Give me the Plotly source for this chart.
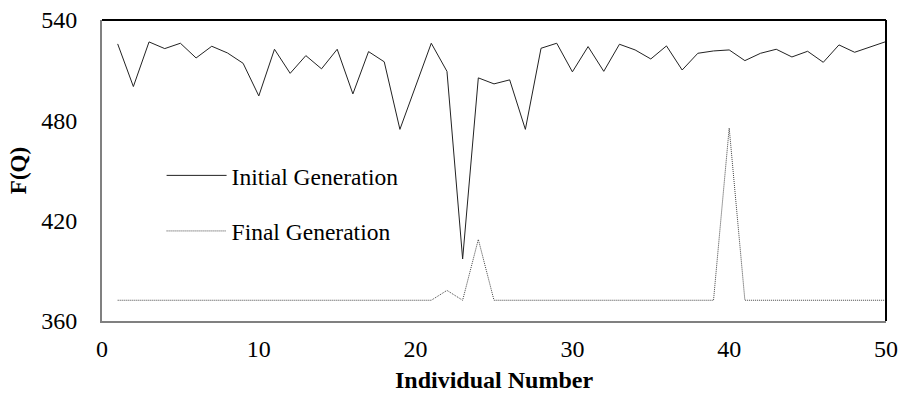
import plotly.graph_objects as go

individual = list(range(1, 51))
initial_gen = [525.7, 500.2, 526.9, 522.9, 526.1, 517.3, 524.3, 520.3, 514.1, 494.6,
               522.5, 508.1, 518.7, 510.8, 522.5, 495.8, 521.1, 515.0, 474.6, 500.3,
               526.1, 509.3, 397.1, 505.4, 501.8, 504.2, 474.6, 523.1, 526.1, 509.0,
               524.1, 509.3, 525.5, 522.1, 516.7, 524.5, 510.1, 520.1, 521.5, 522.1,
               515.7, 520.1, 522.5, 517.9, 521.3, 514.7, 525.1, 520.7, 524.0, 527.1]
final_gen = [372.4] * 21 + [378.3, 372.4, 408.8] + [372.4] * 15 + [475.4] + [372.4] * 10

x_ticks = [0, 10, 20, 30, 40, 50]
y_ticks = [360, 420, 480, 540]

FONT = "Liberation Serif, Times New Roman, serif"

fig = go.Figure()
fig.add_trace(go.Scatter(x=individual, y=initial_gen, mode="lines", name="Initial Generation",
                         legendgroup="a",
                         line=dict(color="#222222", width=1)))
fig.add_trace(go.Scatter(x=individual, y=final_gen, mode="lines", name="Final Generation",
                         legendgroup="b",
                         line=dict(color="#444444", width=1, dash="1px,1px")))

fig.update_layout(
    width=902, height=403,
    margin=dict(l=102.3, r=16, t=19.5, b=82.3),
    paper_bgcolor="white", plot_bgcolor="white",
    font=dict(family=FONT, size=24, color="black"),
    showlegend=True,
    legend=dict(x=0.076, y=0.39, xanchor="left", yanchor="middle",
                bgcolor="rgba(0,0,0,0)", font=dict(size=23.5, family=FONT),
                tracegroupgap=22, itemwidth=60),
    xaxis=dict(range=[0, 50], tickvals=x_ticks, ticks="", showgrid=False, zeroline=False,
               showline=True, linecolor="#808080", linewidth=2, automargin=False,
               ticklabelstandoff=5, ticklabeloverflow="allow",
               title=dict(text="<b>Individual Number</b>", font=dict(size=24), standoff=10),
               tickfont=dict(size=24)),
    yaxis=dict(range=[360, 540], tickvals=y_ticks, ticks="", showgrid=False, zeroline=False,
               showline=True, linecolor="#808080", linewidth=2, automargin=False,
               ticklabelstandoff=18, ticklabeloverflow="allow",
               title=dict(text="<b>F(Q)</b>", font=dict(size=23), standoff=8),
               tickfont=dict(size=24)),
    shapes=[
        dict(type="line", xref="paper", yref="paper", x0=0, x1=1, y0=1, y1=1,
             line=dict(color="black", width=2)),
        dict(type="line", xref="paper", yref="paper", x0=1, x1=1, y0=0, y1=1,
             line=dict(color="black", width=2)),
    ],
)

# Remove the browser's default 8px body margin so the figure fills the window exactly.
fig.write_html("out.html",
               config={"displayModeBar": False},
               post_script="document.body.style.margin='0';document.body.style.overflow='hidden';")
